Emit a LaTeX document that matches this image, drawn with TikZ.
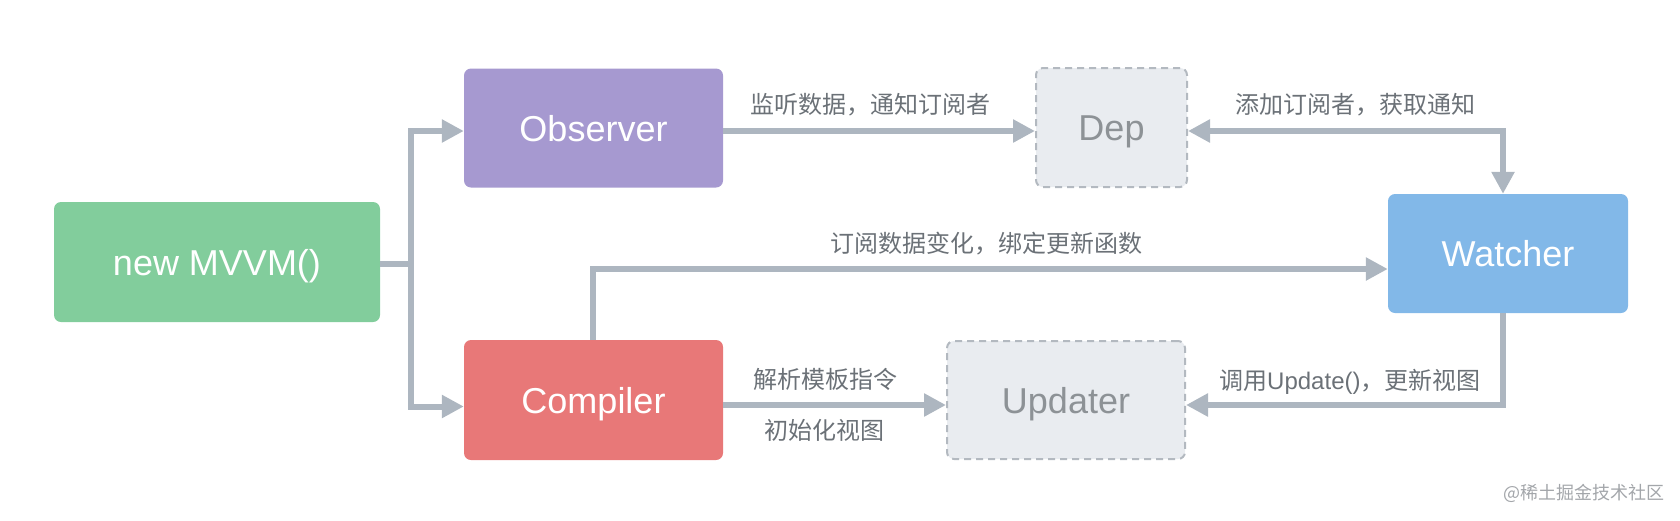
\documentclass[tikz,border=0pt]{standalone}
\usepackage{fontspec}
\setmainfont{Liberation Sans}
\newfontfamily\cjk{Noto Sans CJK SC}
\usetikzlibrary{arrows.meta}
\definecolor{cgreen}{HTML}{82CD9C}
\definecolor{cpurple}{HTML}{A699D0}
\definecolor{cred}{HTML}{E87878}
\definecolor{cblue}{HTML}{82B8E8}
\definecolor{cgfill}{HTML}{E9ECF0}
\definecolor{cgborder}{HTML}{B3B9C0}
\definecolor{carrow}{HTML}{ADB6C0}
\definecolor{clabel}{HTML}{6B7177}
\definecolor{cgtext}{HTML}{8D9296}
\definecolor{cwm}{HTML}{A3A6AA}
\tikzset{
  box/.style={rectangle, rounded corners=7pt, inner sep=0pt, text=white,
    font=\fontsize{36}{40}\selectfont, text height=26pt, text depth=0pt},
  dbox/.style={box, fill=cgfill, draw=cgborder, line width=2pt,
    dash pattern=on 7pt off 5pt, text=cgtext},
  conn/.style={draw=carrow, line width=6pt,
    -{Triangle[length=22pt,width=22pt]}},
  lbl/.style={inner sep=0pt, anchor=base west, text=clabel,
    font=\fontsize{24}{28}\selectfont\cjk},
}
\begin{document}
\begin{tikzpicture}[x=1pt,y=-1pt]
\useasboundingbox (0,0) rectangle (1680,520);
% boxes
\node[box, fill=cgreen, minimum width=326pt, minimum height=120pt] (mvvm) at (217,262) {new MVVM()};
\node[box, fill=cpurple, minimum width=259pt, minimum height=119pt] (obs) at (593.5,128) {Observer};
\node[box, fill=cred, minimum width=259pt, minimum height=120pt] (comp) at (593.5,400) {Compiler};
\node[dbox, minimum width=151pt, minimum height=119pt] (dep) at (1111.5,127.5) {Dep};
\node[dbox, minimum width=238pt, minimum height=118pt] (upd) at (1066,400) {Updater};
\node[box, fill=cblue, minimum width=240pt, minimum height=119pt] (wat) at (1508,253.5) {Watcher};
% routing coordinates
\coordinate (r1) at (0,131);
\coordinate (rm) at (0,264);
\coordinate (rw) at (0,269);
\coordinate (r2) at (0,406.5);
\coordinate (r3) at (0,405);
\coordinate (c1) at (411,0);
\coordinate (cc) at (593,0);
\coordinate (cw) at (1503,0);
\coordinate (split) at (c1 |- rm);
% connectors
\draw[draw=carrow, line width=6pt] (mvvm.east |- rm) -- (split);
\draw[conn] (split) |- (obs.west |- r1);
\draw[conn] (split) |- (comp.west |- r2);
\draw[conn] (obs.east |- r1) -- (dep.west |- r1);
\draw[conn, {Triangle[length=22pt,width=22pt]}-{Triangle[length=22pt,width=22pt]}] (dep.east |- r1) -| (wat.north -| cw);
\draw[conn] (comp.north -| cc) |- (wat.west |- rw);
\draw[conn] (comp.east |- r3) -- (upd.west |- r3);
\draw[conn] (wat.south -| cw) |- (upd.east |- r3);
% labels
\node[lbl] (l1) at (750,113) {监听数据，通知订阅者};
\node[lbl] (l2) at (1235,113) {添加订阅者，获取通知};
\node[lbl] (l3) at (830,252) {订阅数据变化，绑定更新函数};
\node[lbl] (l4) at (753,388) {解析模板指令};
\node[lbl] (l5) at (764,439) {初始化视图};
\node[lbl] (l6) at (1219,389) {调用{\rmfamily Update()}，更新视图};
\node[inner sep=0pt, anchor=base west, text=cwm, font=\fontsize{18}{20}\selectfont\cjk] (wm) at (1503,499) {@稀土掘金技术社区};
\end{tikzpicture}
\end{document}
